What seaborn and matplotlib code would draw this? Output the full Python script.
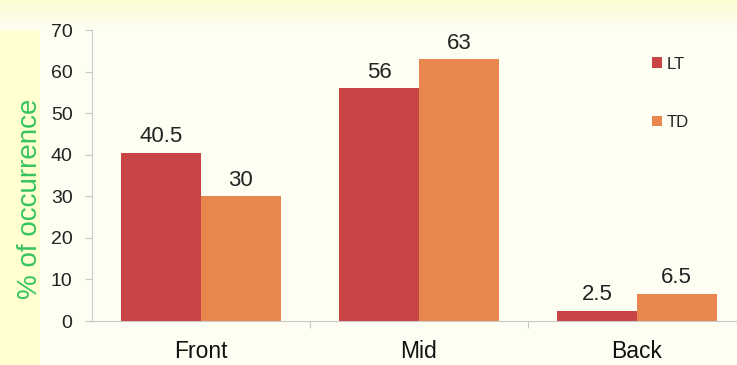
import matplotlib
matplotlib.use("Agg")
import matplotlib.pyplot as plt
import numpy as np
import pandas as pd
import seaborn as sns

# Data
regions = ["Front", "Mid", "Back"]
groups = ["LT", "TD"]
lt_values = [40.5, 56, 2.5]
td_values = [30, 63, 6.5]
y_ticks = [0, 10, 20, 30, 40, 50, 60, 70]
bar_colors = ["#C94444", "#E8874D"]

df = pd.DataFrame({
    "region": regions * 2,
    "group": [groups[0]] * 3 + [groups[1]] * 3,
    "value": lt_values + td_values,
})

sns.set_theme(style="white")
plt.rcParams["font.family"] = ["Liberation Sans", "DejaVu Sans"]

fig = plt.figure(figsize=(7.37, 3.65), dpi=100)
fig.patch.set_facecolor("#FEFEF3")

# pale yellow band down the left edge and haze along the top
fig.add_artist(plt.Rectangle((0, 0), 40 / 737, 1, transform=fig.transFigure,
                             facecolor="#FFFFCF", edgecolor="none", zorder=0))
grad = np.linspace(1, 0, 50).reshape(-1, 1)
top_ax = fig.add_axes([0, 1 - 30 / 365, 1, 30 / 365], zorder=0)
top_ax.imshow(grad, aspect="auto", cmap=matplotlib.colors.LinearSegmentedColormap.from_list(
    "haze", ["#FEFEF3", "#FCFCD2"]), extent=(0, 1, 0, 1))
top_ax.axis("off")

ax = fig.add_axes([92 / 737, 1 - 321 / 365, 654 / 737, 291 / 365], zorder=2)
ax.set_facecolor("none")

sns.barplot(data=df, x="region", y="value", hue="group", palette=bar_colors,
            width=0.73, saturation=1, linewidth=0, ax=ax, legend=True)

for container in ax.containers:
    ax.bar_label(container, labels=[f"{v:g}" for v in container.datavalues],
                 padding=4, fontsize=16, color="#222222")

ax.set_xlim(-0.5, 2.5)
ax.set_ylim(0, 70)
ax.set_yticks(y_ticks)
ax.set_xlabel("")
ax.set_ylabel("% of occurrence", fontsize=20, color="#36C45E")
ax.yaxis.set_label_coords(-0.075, 0.42)

ax.tick_params(axis="y", labelsize=14, labelcolor="#222222", length=5,
               width=0.8, color="#C8C8C8", pad=9, left=True)
ax.tick_params(axis="x", which="major", labelsize=16.5, labelcolor="#111111",
               length=0, pad=14)
ax.set_xticks([0.5, 1.5], minor=True)
ax.tick_params(axis="x", which="minor", length=5, width=0.8, color="#C8C8C8",
               bottom=True)

for side in ["top", "right"]:
    ax.spines[side].set_visible(False)
for side in ["left", "bottom"]:
    ax.spines[side].set_color("#C8C8C8")
    ax.spines[side].set_linewidth(0.8)

leg = ax.legend(loc="upper left", bbox_to_anchor=(545 / 654, 0.96),
                frameon=False, fontsize=12, handlelength=0.6, handleheight=0.6,
                handletextpad=0.3, labelspacing=2.6)
for t in leg.get_texts():
    t.set_color("#222222")

fig.savefig("out.png", dpi=100, facecolor=fig.get_facecolor())
